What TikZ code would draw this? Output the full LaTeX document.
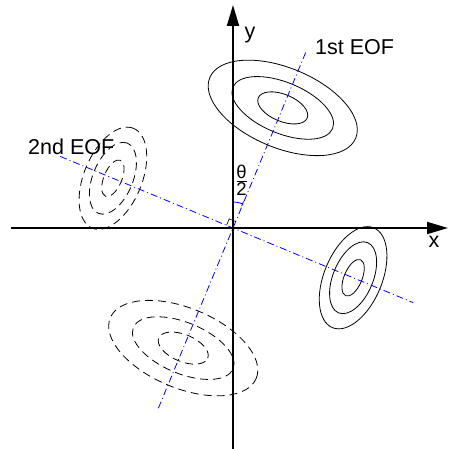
\documentclass[tikz,border=0pt]{standalone}
\usepackage{fontspec}
\setmainfont{Liberation Sans}
\usetikzlibrary{arrows.meta}
\begin{document}
\begin{tikzpicture}[x=1pt,y=1pt,
  axis/.style={line width=1.8pt, -{Triangle[length=21pt,width=12pt]}},
  eof/.style={blue, line width=0.8pt, dash pattern=on 7pt off 3pt on 1pt off 3pt},
  solidell/.style={line width=0.8pt},
  dashell/.style={line width=0.8pt, dash pattern=on 8pt off 5pt},
  lbl/.style={font=\fontsize{21.5}{26}\selectfont, inner sep=0pt},
  fraclbl/.style={font=\fontsize{18.5}{22}\selectfont, inner sep=0pt}]
\useasboundingbox (-233,-221) rectangle (216,228);
\coordinate (O) at (0,0);
\coordinate (xs) at (-222,0);
\coordinate (xe) at (215,0);
\coordinate (ys) at (0,-221);
\coordinate (ye) at (0,223);
\coordinate (e1a) at (67.5:193);
\coordinate (e1b) at (247.5:195);
\coordinate (e2a) at (157.5:187);
\coordinate (e2b) at (-22.5:195);
\coordinate (c1) at (67.5:130);
\coordinate (c1b) at (247.5:130);
\coordinate (c2) at (-22.5:130);
\coordinate (c2b) at (157.5:130);
% ellipses
\foreach \a/\b in {79/40, 54/25.5, 26.5/13.5} {
  \draw[solidell] (c1) ellipse [x radius=\a, y radius=\b, rotate=-22.5];
  \draw[dashell] (c1b) ellipse [x radius=\a, y radius=\b, rotate=-22.5];
}
\foreach \a/\b in {54/29, 38/20, 19.5/9} {
  \draw[solidell] (c2) ellipse [x radius=\a, y radius=\b, rotate=67.5];
  \draw[dashell] (c2b) ellipse [x radius=\a, y radius=\b, rotate=67.5];
}
% EOF lines
\draw[eof] (e1b) -- (e1a);
\draw[eof] (e2a) -- (e2b);
% angle mark
\draw[blue, line width=0.8pt, {Bar[width=5pt]}-{Bar[width=5pt]}] (90:26) arc[start angle=90, end angle=67.5, radius=26];
% right angle mark
\draw[line width=0.6pt] (67.5:7) -- ++(157.5:7) -- (157.5:7);
% axes
\draw[axis] (xs) -- (xe);
\draw[axis] (ys) -- (ye);
% labels
\node[lbl, anchor=base west] (eof1) at (82,173) {1st EOF};
\node[lbl, anchor=base west] (eof2) at (-205,73) {2nd EOF};
\node[lbl, anchor=base] (xl) at (201,-20) {x};
\node[lbl, anchor=base] (yl) at (17,189) {y};
\node[fraclbl, anchor=base] (th) at (8.5,49.5) {θ};
\node[fraclbl, anchor=base] (two) at (8.5,32.5) {2};
\draw[line width=0.8pt] (3.5,47) -- (13.5,47);
\end{tikzpicture}
\end{document}
